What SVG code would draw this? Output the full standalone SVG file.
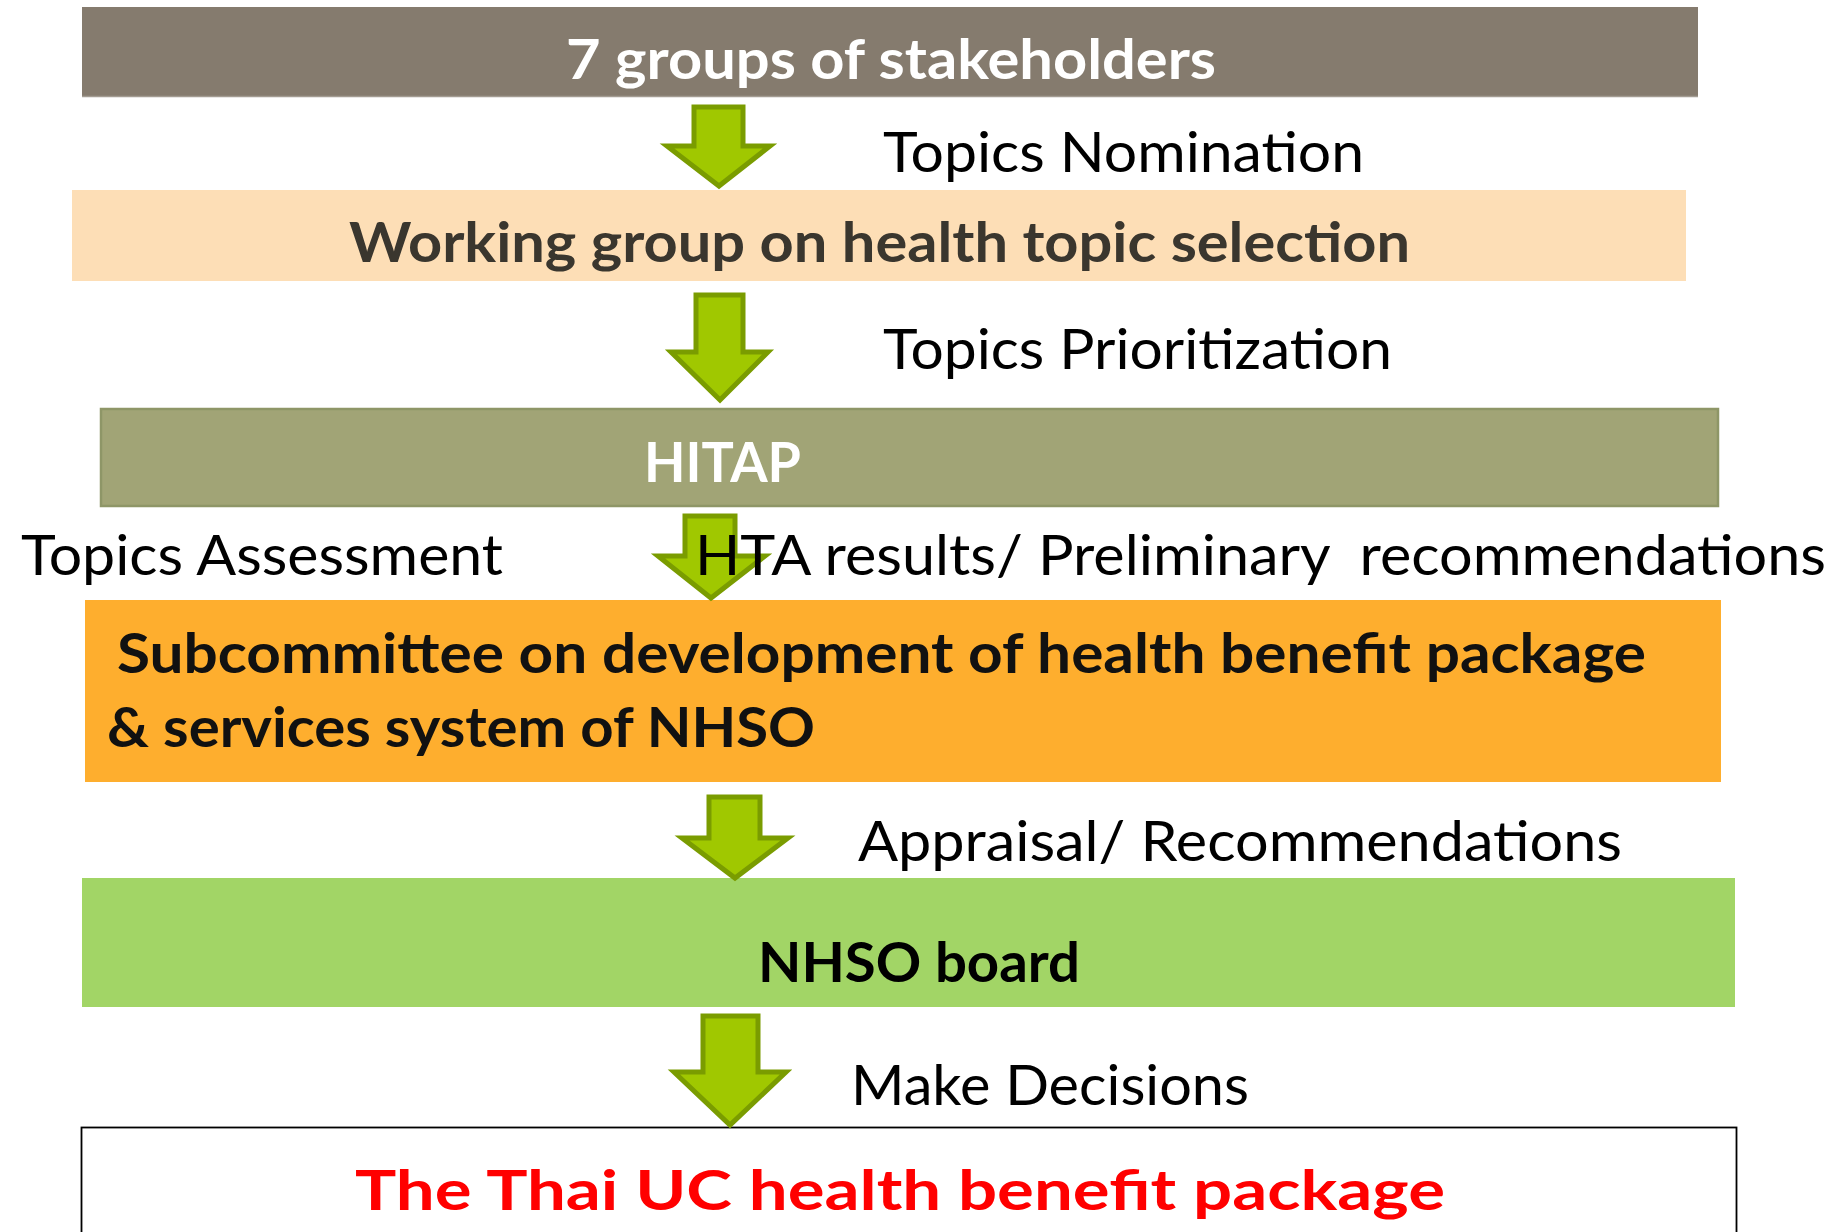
<svg xmlns="http://www.w3.org/2000/svg" width="1839" height="1232" viewBox="0 0 1839 1232">
  <style>
    .lbl { font-family: Lato, "Open Sans", "Liberation Sans", sans-serif; font-size: 56px; fill: #000; }
    .head { font-family: Lato, "Open Sans", "Liberation Sans", sans-serif; font-size: 56px; font-weight: bold; }
    .arrow { fill: #A0C800; stroke: #7A9C00; stroke-width: 5; stroke-linejoin: miter; }
  </style>
  <rect width="1839" height="1232" fill="#fff"/>

  <g id="stakeholders">
    <rect x="82" y="7" width="1616" height="90" fill="#857B6E"/>
    <line x1="82" y1="96.5" x2="1698" y2="96.5" stroke="#A39C92" stroke-width="1.5"/>
    <text class="head" x="566" y="79" fill="#fff" textLength="650" lengthAdjust="spacingAndGlyphs">7 groups of stakeholders</text>
  </g>

  <g id="working-group">
    <rect x="72" y="190" width="1614" height="91" fill="#FDDEB6"/>
    <text class="head" x="349" y="262" fill="#3A362E" textLength="1061" lengthAdjust="spacingAndGlyphs">Working group on health topic selection</text>
  </g>

  <g id="hitap">
    <rect x="101" y="409" width="1617" height="97" fill="#A1A476" stroke="#8E9667" stroke-width="2.5"/>
    <text class="head" x="644" y="482" fill="#fff" font-size="55" textLength="157" lengthAdjust="spacingAndGlyphs">HITAP</text>
  </g>

  <g id="subcommittee">
    <rect x="85" y="600" width="1636" height="182" fill="#FEAE2E"/>
    <text class="head" x="117" y="673" fill="#111" textLength="1529" lengthAdjust="spacingAndGlyphs">Subcommittee on development of health benefit package</text>
    <text class="head" x="107" y="747" fill="#111" textLength="708" lengthAdjust="spacingAndGlyphs">&amp; services system of NHSO</text>
  </g>

  <g id="nhso-board">
    <rect x="82" y="878" width="1653" height="129" fill="#A2D566"/>
    <text class="head" x="758" y="982" fill="#000" textLength="322" lengthAdjust="spacingAndGlyphs">NHSO board</text>
  </g>

  <g id="benefit-package">
    <rect x="81.5" y="1127.5" width="1655" height="120" fill="#fff" stroke="#000" stroke-width="1.8"/>
    <text class="head" x="355" y="1210" fill="#FF0000" font-size="64" textLength="1090" lengthAdjust="spacingAndGlyphs">The Thai UC health benefit package</text>
  </g>

  <g id="connectors">
    <path class="arrow" d="M694,107 H743 V146 H770 L719,186 L667,146 H694 Z"/>
    <path class="arrow" d="M696,295 H743 V352 H768 L720,400 L671,352 H696 Z"/>
    <path class="arrow" d="M685,516 H735 V556 H765 L711,598 L658,556 H685 Z"/>
    <path class="arrow" d="M709,797 H760 V838 H788 L735,878 L682,838 H709 Z"/>
    <path class="arrow" d="M703,1016 H758 V1072 H786 L730,1125 L674,1072 H703 Z"/>
  </g>

  <g id="connector-labels">
    <text class="lbl" x="883" y="172" textLength="481" lengthAdjust="spacingAndGlyphs">Topics Nomination</text>
    <text class="lbl" x="883" y="369" textLength="509" lengthAdjust="spacingAndGlyphs">Topics Prioritization</text>
    <text class="lbl" x="21" y="575" textLength="482" lengthAdjust="spacingAndGlyphs">Topics Assessment</text>
    <text class="lbl" x="695" y="575" textLength="1131" lengthAdjust="spacingAndGlyphs" xml:space="preserve">HTA results/ Preliminary  recommendations</text>
    <text class="lbl" x="858" y="861" textLength="764" lengthAdjust="spacingAndGlyphs">Appraisal/ Recommendations</text>
    <text class="lbl" x="851" y="1105" textLength="398" lengthAdjust="spacingAndGlyphs">Make Decisions</text>
  </g>
</svg>
